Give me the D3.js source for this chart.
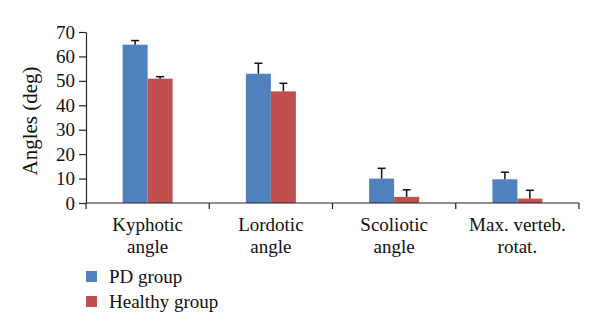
<!DOCTYPE html>
<html>
<head>
<meta charset="utf-8">
<script src="https://cdn.jsdelivr.net/npm/d3@7"></script>
<style>
  body { margin: 0; background: #fff; }
  text { font-family: "Liberation Serif", "DejaVu Serif", serif; fill: #111; }
</style>
</head>
<body>
<div id="chart"></div>
<script>
let categories = [["Kyphotic", "angle"], ["Lordotic", "angle"], ["Scoliotic", "angle"], ["Max. verteb.", "rotat."]]
let seriesNames = ["PD group", "Healthy group"]
let pdValues = [64.8, 52.9, 10.0, 9.7]
let pdErrors = [1.7, 4.3, 4.2, 2.9]
let healthyValues = [50.9, 45.7, 2.5, 1.8]
let healthyErrors = [0.8, 3.3, 2.9, 3.4]
let yTicks = [0, 10, 20, 30, 40, 50, 60, 70]

let colors = ["#4f81bd", "#c0504d"]

let width = 600
let height = 336

let plotLeft = 86
let plotRight = 579
let plotTop = 32
let plotBottom = 203

const svg = d3.select('#chart')
	.append('svg')
	.attr('width', width)
	.attr('height', height)

let xScale = d3.scaleBand()
	.domain(d3.range(categories.length))
	.range([plotLeft, plotRight])

let inner = d3.scaleBand()
	.domain([0, 1])
	.range([0, 50])

let yScale = d3.scaleLinear()
	.domain([0, 70])
	.range([plotBottom, plotTop])

let rows = []
categories.forEach(function(c, i){
	rows.push({cat: i, s: 0, v: pdValues[i], e: pdErrors[i]})
	rows.push({cat: i, s: 1, v: healthyValues[i], e: healthyErrors[i]})
})

let groupOffset = (xScale.bandwidth() - 50) / 2
let barX = d => xScale(d.cat) + groupOffset + inner(d.s)

// bars
svg.selectAll('.bar')
	.data(rows)
	.enter()
	.append('rect')
	.attr('x', barX)
	.attr('width', inner.bandwidth())
	.attr('y', d => yScale(d.v))
	.attr('height', d => yScale(0) - yScale(d.v))
	.attr('fill', d => colors[d.s])

// error bars (upper only)
let errG = svg.selectAll('.err')
	.data(rows)
	.enter()
	.append('g')
	.attr('stroke', '#111')
	.attr('stroke-width', 1.5)

errG.append('line')
	.attr('x1', d => barX(d) + inner.bandwidth() / 2)
	.attr('x2', d => barX(d) + inner.bandwidth() / 2)
	.attr('y1', d => yScale(d.v))
	.attr('y2', d => yScale(d.v + d.e))

errG.append('line')
	.attr('x1', d => barX(d) + inner.bandwidth() / 2 - 4)
	.attr('x2', d => barX(d) + inner.bandwidth() / 2 + 4)
	.attr('y1', d => yScale(d.v + d.e))
	.attr('y2', d => yScale(d.v + d.e))

// y axis
let yAxis = g => g.attr("transform", `translate(${plotLeft},0)`)
	.call(d3.axisLeft(yScale).tickValues(yTicks).tickSize(7).tickPadding(4).tickSizeOuter(0))

let yG = svg.append('g').call(yAxis)
yG.selectAll('path').attr('stroke', '#222').attr('stroke-width', 1.2)
yG.selectAll('line').attr('stroke', '#222').attr('stroke-width', 1.2)
yG.selectAll('text').attr('font-size', 19).attr('font-family', '"Liberation Serif", serif').attr('fill', '#111')

// x axis
let xG = svg.append('g').attr('transform', `translate(0,${plotBottom})`)
xG.append('line')
	.attr('x1', plotLeft).attr('x2', plotRight)
	.attr('stroke', '#222').attr('stroke-width', 1.2)

xG.selectAll('.tick')
	.data(d3.range(categories.length + 1))
	.enter()
	.append('line')
	.attr('x1', d => d < categories.length ? xScale(d) : plotRight)
	.attr('x2', d => d < categories.length ? xScale(d) : plotRight)
	.attr('y1', 0)
	.attr('y2', 6)
	.attr('stroke', '#222')
	.attr('stroke-width', 1.2)

xG.selectAll('.lbl')
	.data(categories)
	.enter()
	.append('text')
	.attr('text-anchor', 'middle')
	.attr('font-size', 19)
	.selectAll('tspan')
	.data((d, i) => d.map(t => ({t: t, i: i})))
	.enter()
	.append('tspan')
	.attr('x', d => xScale(d.i) + xScale.bandwidth() / 2)
	.attr('y', (d, j) => 28 + j * 22)
	.text(d => d.t)

// y title
svg.append('text')
	.attr('transform', 'translate(37,121) rotate(-90)')
	.attr('text-anchor', 'middle')
	.attr('font-size', 21)
	.text('Angles (deg)')

// legend
let legend = svg.selectAll('.legend')
	.data(seriesNames)
	.enter()
	.append('g')
	.attr('transform', (d, i) => `translate(86,${271 + i * 25})`)

legend.append('rect')
	.attr('width', 11)
	.attr('height', 11)
	.attr('fill', (d, i) => colors[i])

legend.append('text')
	.attr('x', 23)
	.attr('y', 12)
	.attr('font-size', 19)
	.text(d => d)
</script>
</body>
</html>
